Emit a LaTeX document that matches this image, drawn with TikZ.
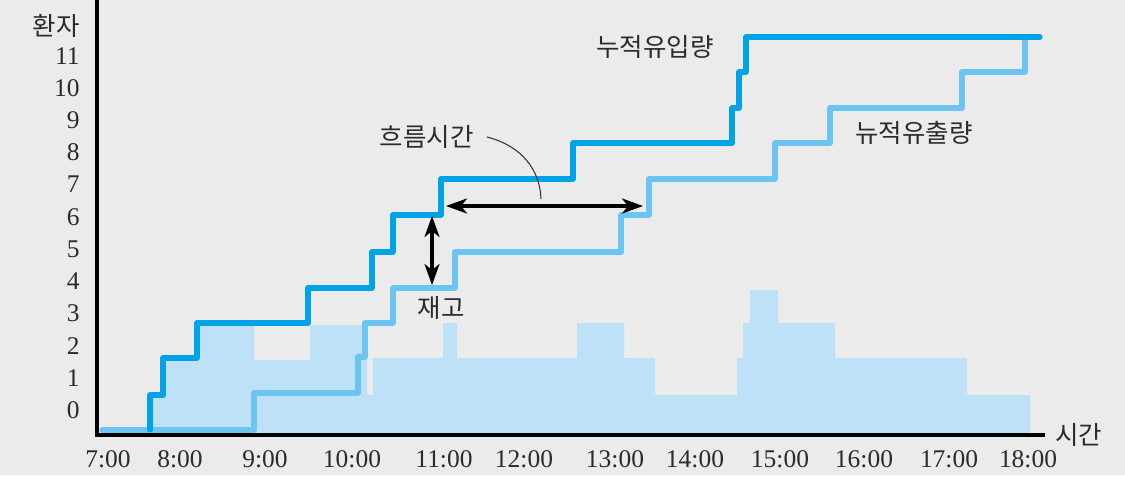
\documentclass[tikz,border=0pt]{standalone}
\usepackage{fontspec}
\setmainfont{Liberation Serif}
\newfontfamily\kr{Noto Sans CJK KR}
\usepackage{tikz}
\usetikzlibrary{positioning, calc, arrows.meta}
\definecolor{bggray}{HTML}{EBEBEB}
\definecolor{inblue}{HTML}{00A3E6}
\definecolor{outblue}{HTML}{6CC4F0}
\definecolor{queueblue}{HTML}{BDE1F7}
\definecolor{txtgray}{HTML}{2E2A2A}

\begin{document}
\begin{tikzpicture}[x=0.02cm, y=-0.02cm,
    inflow/.style={draw=inblue, line width=2.9pt, line join=round, line cap=round},
    outflow/.style={draw=outblue, line width=2.9pt, line join=round, line cap=round},
    queue/.style={fill=queueblue, draw=none},
    axisline/.style={line width=2.4pt, black},
    ticklbl/.style={text=txtgray, font=\fontsize{14.5pt}{16pt}\selectfont, inner sep=0pt},
    krlbl/.style={text=txtgray, font=\kr\fontsize{14.5pt}{17pt}\selectfont, inner sep=0pt},
    dblarrow/.style={line width=1.8pt, black, {Stealth[length=0.42cm,width=0.3cm,inset=0.12cm]}-{Stealth[length=0.42cm,width=0.3cm,inset=0.12cm]}},
    pointer/.style={line width=0.6pt, draw=black!80}]
    \useasboundingbox (0,0) rectangle (1125,487);
    \fill[bggray] (0,0) rectangle (1125,475);
    % patients in system
    \path[queue] (150,433) -- (150,395) -- (163,395) -- (163,358) -- (197,358) -- (197,325)
        -- (254,325) -- (254,360) -- (310,360) -- (310,325) -- (362,325) -- (362,358)
        -- (367,358) -- (367,395) -- (373,395) -- (373,358) -- (443,358) -- (443,323)
        -- (457,323) -- (457,358) -- (577,358) -- (577,323) -- (624,323) -- (624,358)
        -- (655,358) -- (655,395) -- (737,395) -- (737,358) -- (743,358) -- (743,323)
        -- (750,323) -- (750,290) -- (778,290) -- (778,323) -- (835,323) -- (835,358)
        -- (967,358) -- (967,395) -- (1030,395) -- (1030,433) -- cycle;
    % cumulative departures
    \draw[outflow] (102,430) -- (254,430) -- (254,393) -- (358,393) -- (358,357) -- (365,357)
        -- (365,323) -- (393,323) -- (393,288) -- (455,288) -- (455,252) -- (621,252)
        -- (621,215) -- (649,215) -- (649,179) -- (775,179) -- (775,143) -- (830,143)
        -- (830,108) -- (962,108) -- (962,72) -- (1025,72) -- (1025,37);
    % cumulative arrivals
    \draw[inflow] (150,430) -- (150,395) -- (163,395) -- (163,358) -- (197,358) -- (197,323)
        -- (308,323) -- (308,288) -- (372,288) -- (372,252) -- (393,252) -- (393,215)
        -- (441,215) -- (441,179) -- (573,179) -- (573,143) -- (732,143) -- (732,108)
        -- (739,108) -- (739,72) -- (746,72) -- (746,37) -- (1040,37);
    % axes
    \coordinate (origin) at (97,435);
    \coordinate (ytop) at (97,0);
    \coordinate (xend) at (1045,435);
    \draw[axisline] (ytop) -- (origin) -- (xend);
    \node[krlbl, anchor=east] (ylbl) at (80,26) {환자};
    \node[krlbl, anchor=west] (xlbl) at (1055,435) {시간};
    \foreach \n in {0,...,11}
        \node[ticklbl, anchor=east] (y\n) at (80,{410-32.2*\n}) {\n};
    \foreach \x/\t [count=\i] in {108/7:00, 180/8:00, 265/9:00, 352/10:00, 444/11:00, 524/12:00,
        615/13:00, 695/14:00, 780/15:00, 864/16:00, 949/17:00, 1028/18:00}
        \node[ticklbl] (t\i) at (\x,459) {\t};
    % curve labels
    \node[krlbl] (inlbl) at (655,47) {누적유입량};
    \node[krlbl] (outlbl) at (914,133) {뉴적유출량};
    % inventory and flow time
    \coordinate (invtop) at (432,216);
    \coordinate (invbot) at (432,285);
    \draw[dblarrow] (invtop) -- (invbot);
    \node[krlbl] (inv) at (441,308) {재고};
    \coordinate (ftstart) at (446,206);
    \coordinate (ftend) at (643,206);
    \draw[dblarrow] (ftstart) -- (ftend);
    \node[krlbl, anchor=east] (ft) at (474,137) {흐름시간};
    \coordinate (ftmid) at (541,199);
    \draw[pointer] ([xshift=0.26cm]ft.east) .. controls (522,146) and (540,170) .. (ftmid);
\end{tikzpicture}
\end{document}
